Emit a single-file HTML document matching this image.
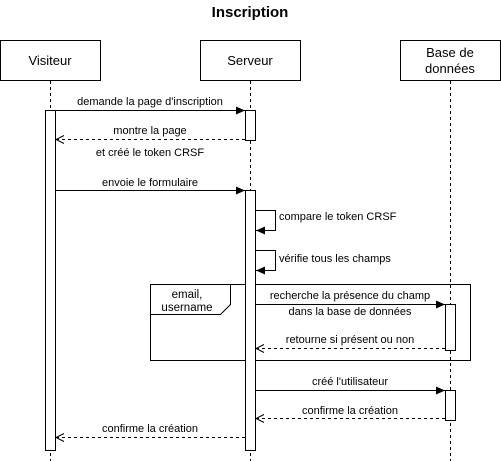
<!DOCTYPE html>
<html><head><meta charset="utf-8"><style>
html,body{margin:0;padding:0;background:#fff;}
svg{display:block;font-family:"Liberation Sans",Arial,sans-serif;}
</style></head><body>
<svg width="501" height="461" viewBox="0 0 501 461" xmlns="http://www.w3.org/2000/svg">
<defs>
<marker id="fa" markerWidth="10" markerHeight="8" refX="9" refY="4" orient="auto" markerUnits="userSpaceOnUse"><path d="M0,0 L9,4 L0,8 Z" fill="#000"/></marker>
<marker id="oa" markerWidth="10" markerHeight="10" refX="9" refY="5" orient="auto" markerUnits="userSpaceOnUse"><path d="M1,1 L9,5 L1,9" fill="none" stroke="#000"/></marker>
</defs>
<text x="250" y="17" font-size="15" font-weight="bold" text-anchor="middle">Inscription</text>
<g stroke="#000" fill="#fff">
<rect x="0.5" y="40.5" width="100" height="40"/>
<rect x="200.5" y="40.5" width="100" height="40"/>
<rect x="400.5" y="40.5" width="100" height="40"/>
</g>
<g font-size="13" text-anchor="middle">
<text x="50" y="65">Visiteur</text>
<text x="250" y="65">Serveur</text>
<text x="450" y="57">Base de</text>
<text x="450" y="73">données</text>
</g>
<g stroke="#000" stroke-dasharray="3,3" fill="none">
<line x1="50.5" y1="81" x2="50.5" y2="461"/>
<line x1="250.5" y1="81" x2="250.5" y2="461"/>
<line x1="450.5" y1="81" x2="450.5" y2="461"/>
</g>
<rect x="150.5" y="284.5" width="320" height="76" fill="none" stroke="#000"/>
<path d="M150.5,314.5 H220.5 L230.5,304.5 V284.5" fill="#fff" stroke="#000"/>
<g stroke="#000" fill="#fff">
<rect x="45.5" y="110.5" width="10" height="340"/>
<rect x="245.5" y="110.5" width="10" height="30"/>
<rect x="245.5" y="190.5" width="10" height="260"/>
<rect x="445.5" y="304.5" width="10" height="46"/>
<rect x="445.5" y="390.5" width="10" height="30"/>
</g>
<g stroke="#000" fill="none">
<line x1="56" y1="110.5" x2="245" y2="110.5" marker-end="url(#fa)"/>
<line x1="245" y1="139.5" x2="56" y2="139.5" stroke-dasharray="3,3" marker-end="url(#oa)"/>
<line x1="56" y1="190.5" x2="245" y2="190.5" marker-end="url(#fa)"/>
<path d="M256,210.5 H275.5 V230.5 H256" marker-end="url(#fa)"/>
<path d="M256,250.5 H275.5 V270.5 H256" marker-end="url(#fa)"/>
<line x1="256" y1="304.5" x2="445" y2="304.5" marker-end="url(#fa)"/>
<line x1="445" y1="348.5" x2="256" y2="348.5" stroke-dasharray="3,3" marker-end="url(#oa)"/>
<line x1="256" y1="390.5" x2="445" y2="390.5" marker-end="url(#fa)"/>
<line x1="445" y1="418.5" x2="256" y2="418.5" stroke-dasharray="3,3" marker-end="url(#oa)"/>
<line x1="245" y1="437.5" x2="56" y2="437.5" stroke-dasharray="3,3" marker-end="url(#oa)"/>
</g>
<g font-size="11" text-anchor="middle">
<text x="150" y="105">demande la page d'inscription</text>
<text x="150" y="134">montre la page</text>
<text x="150" y="156">et créé le token CRSF</text>
<text x="150" y="186">envoie le formulaire</text>
<text x="279" y="220" text-anchor="start">compare le token CRSF</text>
<text x="279" y="262" text-anchor="start">vérifie tous les champs</text>
<text x="187" y="298" font-size="11.5">email,</text>
<text x="187" y="311" font-size="11.5">username</text>
<text x="350" y="299">recherche la présence du champ</text>
<text x="350" y="315">dans la base de données</text>
<text x="350" y="343">retourne si présent ou non</text>
<text x="350" y="385">créé l'utilisateur</text>
<text x="350" y="414">confirme la création</text>
<text x="150" y="432">confirme la création</text>
</g>
</svg>
</body></html>
